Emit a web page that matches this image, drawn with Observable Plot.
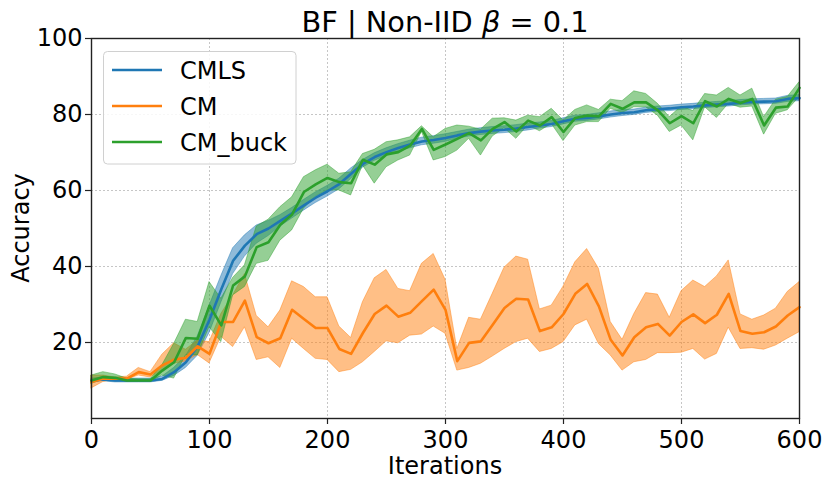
<!DOCTYPE html>
<html><head><meta charset="utf-8">
<script src="https://cdn.jsdelivr.net/npm/d3@7"></script>
<script src="https://cdn.jsdelivr.net/npm/@observablehq/plot@0.6"></script>
<style>html,body{margin:0;padding:0;background:#fff}svg{display:block}</style>
</head><body><div id="chart"></div>
<script>
const iterations = [0,10,20,30,40,50,60,70,80,90,100,110,120,130,140,150,160,170,180,190,200,210,220,230,240,250,260,270,280,290,300,310,320,330,340,350,360,370,380,390,400,410,420,430,440,450,460,470,480,490,500,510,520,530,540,550,560,570,580,590,600];

const cmlsMean = [10.0,10.3,10.0,10.0,10.0,10.0,10.4,12.2,14.8,19.0,26.0,34.0,41.5,45.5,48.5,50.0,52.0,54.0,56.1,58.1,59.8,61.7,64.4,67.0,68.8,70.1,71.2,72.1,72.9,73.3,73.8,74.5,75.1,75.5,75.8,76.0,76.3,76.7,77.1,77.5,78.2,78.9,79.1,79.5,80.0,80.4,80.6,81.1,81.4,81.6,81.9,82.1,82.4,82.6,82.8,83.1,83.3,83.4,83.5,84.1,84.3];
const cmlsLow  = [9.5,9.8,9.5,9.5,9.5,9.5,9.9,11.2,13.3,16.5,22.5,30.5,38.0,42.6,46.0,48.0,50.5,52.6,54.7,56.7,58.4,60.3,63.0,66.0,67.8,69.1,70.2,71.1,71.9,72.3,72.8,73.6,74.2,74.6,74.9,75.1,75.4,75.8,76.3,76.7,77.4,78.1,78.3,78.7,79.2,79.6,79.9,80.4,80.7,80.9,81.2,81.4,81.7,81.9,82.1,82.4,82.6,82.7,82.8,83.3,83.5];
const cmlsHigh = [10.5,10.8,10.5,10.5,10.5,10.5,11.0,13.3,16.4,21.6,29.6,37.5,44.8,48.2,50.8,52.0,53.5,55.4,57.5,59.5,61.2,63.1,65.8,68.0,69.8,71.1,72.2,73.1,73.9,74.3,74.8,75.4,76.0,76.4,76.7,76.9,77.2,77.6,77.9,78.3,79.0,79.7,79.9,80.3,80.8,81.2,81.3,81.8,82.1,82.3,82.6,82.8,83.1,83.3,83.5,83.8,84.0,84.1,84.2,84.9,85.1];

const cmMean = [9.6,10.5,10.5,10.5,12.2,11.6,14.0,15.5,16.0,19.0,17.0,25.4,25.4,31.0,21.4,19.8,21.1,28.6,26.2,23.8,23.8,18.3,17.0,22.5,27.5,29.7,26.8,27.8,30.9,33.9,28.6,15.1,19.9,20.3,24.7,29.1,31.5,31.3,23.0,24.0,27.5,32.8,35.4,29.5,20.7,16.6,21.4,24.0,24.9,21.8,25.4,27.4,25.1,27.3,32.8,23.0,22.3,22.7,24.2,27.1,29.3];
const cmLow  = [7.9,9.6,10.2,10.2,11.3,10.8,12.6,14.4,15.0,16.7,14.5,21.5,18.8,24.0,15.4,16.1,13.3,21.0,18.3,15.7,15.4,12.2,12.8,14.8,17.5,20.3,19.8,21.8,22.1,24.2,22.3,12.6,13.3,14.4,16.3,18.3,20.1,21.0,17.5,18.3,20.1,24.5,26.0,19.6,16.6,12.6,14.8,15.4,17.2,17.2,17.3,18.3,15.5,17.0,23.9,18.3,18.5,18.1,19.2,21.0,22.7];
const cmHigh = [11.3,11.3,10.8,11.0,13.3,12.2,16.8,19.8,18.1,20.5,20.1,27.5,32.4,38.0,27.0,24.0,28.4,36.1,34.6,31.9,31.9,24.2,21.2,30.6,36.9,39.1,34.1,33.5,40.7,43.3,36.5,18.3,26.5,26.0,32.8,39.7,42.6,41.8,28.7,29.7,34.7,41.1,44.6,39.4,25.4,20.7,27.5,33.0,32.6,26.5,33.5,36.3,34.6,37.4,41.6,27.4,26.0,27.1,28.9,33.3,35.9];

const buckMean = [10.0,10.9,10.7,10.0,10.0,10.0,12.6,14.8,21.2,21.0,29.7,24.5,35.0,37.4,45.1,46.4,51.0,53.7,59.6,61.6,63.3,62.2,61.9,68.1,66.8,69.5,70.1,71.8,76.2,70.7,72.1,73.6,75.1,73.2,76.2,78.0,75.5,78.4,77.1,79.3,75.4,79.1,79.7,79.5,82.8,81.5,83.2,83.2,81.1,77.7,79.6,77.7,83.5,82.1,84.1,83.0,84.1,77.1,81.8,82.1,87.0];
const buckLow  = [9.1,10.2,10.2,9.6,9.6,9.6,11.3,10.5,16.6,16.6,24.0,20.1,32.4,34.6,40.7,41.5,46.8,49.5,55.2,58.4,60.0,60.0,58.7,66.6,61.8,66.1,67.9,69.2,75.4,67.9,68.8,70.5,73.6,69.2,74.2,76.4,73.6,77.1,75.6,77.5,73.0,77.1,78.0,78.0,81.5,80.4,81.9,81.9,79.7,75.4,77.1,73.2,81.9,79.1,82.8,81.8,82.1,74.7,80.2,81.1,84.6];
const buckHigh = [11.3,12.2,11.6,10.5,10.3,10.3,14.0,19.6,26.0,25.4,35.9,31.5,37.0,40.3,50.5,52.3,55.6,58.2,63.5,65.3,66.8,64.4,64.8,69.6,70.7,72.7,73.2,74.0,76.9,74.0,76.2,77.1,76.8,76.0,78.9,79.0,78.4,79.7,79.3,81.5,78.4,81.2,82.4,81.2,83.9,83.5,86.1,85.4,82.8,79.3,82.1,80.9,85.4,85.0,87.0,85.0,86.8,79.3,83.9,84.6,88.5];

const methods = ["CMLS", "CM", "CM_buck"];
const colors = ["#1f77b4", "#ff7f0e", "#2ca02c"];
const xTicks = [0,100,200,300,400,500,600];
const yTicks = [20,40,60,80,100];
const xGrid = [100,200,300,400,500];

const series = [
  {mean: cmlsMean, low: cmlsLow, high: cmlsHigh},
  {mean: cmMean, low: cmLow, high: cmHigh},
  {mean: buckMean, low: buckLow, high: buckHigh}
];
const rows = methods.map((m, k) => iterations.map((it, i) => ({
  method: m, it, mean: series[k].mean[i], low: series[k].low[i], high: series[k].high[i]
})));

const font = "DejaVu Sans, sans-serif";
const bandMarks = rows.map((r, k) => Plot.areaY(r, {
  x: "it", y1: "low", y2: "high", fill: colors[k], fillOpacity: 0.5,
  stroke: colors[k], strokeOpacity: 0.45, strokeWidth: 1
}));
const lineMarks = rows.map((r, k) => Plot.line(r, {
  x: "it", y: "mean", stroke: colors[k], strokeWidth: 2.6
}));

const chart = Plot.plot({
  width: 831, height: 485,
  marginLeft: 91, marginRight: 32, marginTop: 38, marginBottom: 67,
  style: {fontFamily: font, fontSize: "24px", background: "white", color: "#000", overflow: "visible"},
  x: {domain: [0, 600], label: null},
  y: {domain: [0, 100], label: null},
  marks: [
    Plot.gridX(xGrid, {stroke: "#b8b8b8", strokeOpacity: 1, strokeWidth: 0.8, strokeDasharray: "2,2"}),
    Plot.gridY(yTicks, {stroke: "#b8b8b8", strokeOpacity: 1, strokeWidth: 0.8, strokeDasharray: "2,2"}),
    ...bandMarks,
    ...lineMarks,
    Plot.frame({stroke: "#222", strokeWidth: 1.4}),
    Plot.axisX(xTicks, {tickSize: 6, tickPadding: 6, fontSize: 24, stroke: "#222", strokeWidth: 1.2, label: null}),
    Plot.axisY(yTicks, {tickSize: 6, tickPadding: 3, fontSize: 24, stroke: "#222", strokeWidth: 1.2, label: null})
  ]
});
document.getElementById("chart").appendChild(chart);

const svg = d3.select(chart);
// Title
const title = svg.append("text").attr("x", 445).attr("y", 32).attr("text-anchor", "middle")
  .attr("font-family", font).attr("font-size", 28.8).attr("fill", "#000");
title.append("tspan").text("BF | Non-IID ");
title.append("tspan").attr("font-style", "italic").text("β");
title.append("tspan").text(" = 0.1");
// Axis labels
svg.append("text").attr("x", 445).attr("y", 474).attr("text-anchor", "middle")
  .attr("font-family", font).attr("font-size", 24).attr("fill", "#000").text("Iterations");
svg.append("text").attr("transform", "translate(28.5,228) rotate(-90)").attr("text-anchor", "middle")
  .attr("font-family", font).attr("font-size", 24).attr("fill", "#000").text("Accuracy");
// Legend
const lg = svg.append("g");
lg.append("rect").attr("x", 103.5).attr("y", 51.5).attr("width", 192.5).attr("height", 112.5)
  .attr("rx", 4).attr("fill", "white").attr("fill-opacity", 0.85).attr("stroke", "#d0d0d0").attr("stroke-width", 1);
methods.forEach((m, k) => {
  const yy = 70 + k * 36;
  lg.append("line").attr("x1", 112).attr("x2", 162).attr("y1", yy).attr("y2", yy)
    .attr("stroke", colors[k]).attr("stroke-width", 2.6);
  lg.append("text").attr("x", 180).attr("y", yy + 9).attr("text-anchor", "start").attr("font-family", font)
    .attr("font-size", 24).attr("fill", "#000").text(m);
});
</script></body></html>
